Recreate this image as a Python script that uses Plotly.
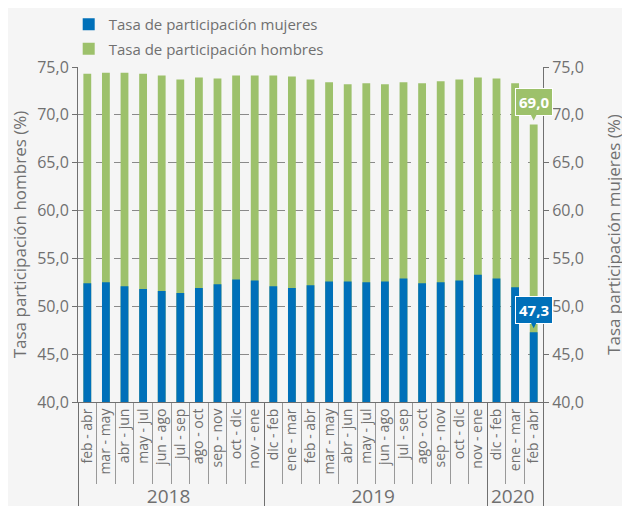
import plotly.graph_objects as go

years = ["2018"] * 10 + ["2019"] * 12 + ["2020"] * 3
periods = ["feb - abr", "mar - may", "abr - jun", "may - jul", "jun - ago", "jul - sep",
           "ago - oct", "sep - nov", "oct - dic", "nov - ene",
           "dic - feb", "ene - mar", "feb - abr", "mar - may", "abr - jun", "may - jul",
           "jun - ago", "jul - sep", "ago - oct", "sep - nov", "oct - dic", "nov - ene",
           "dic - feb", "ene - mar", "feb - abr"]
hombres = [74.3, 74.4, 74.4, 74.3, 74.1, 73.7, 73.9, 73.8, 74.1, 74.1,
           74.1, 74.0, 73.7, 73.4, 73.2, 73.3, 73.2, 73.4, 73.3, 73.5, 73.7, 73.9,
           73.8, 73.3, 69.0]
mujeres = [52.4, 52.5, 52.1, 51.8, 51.6, 51.4, 51.9, 52.3, 52.8, 52.7,
           52.1, 51.9, 52.2, 52.6, 52.6, 52.5, 52.6, 52.9, 52.4, 52.5, 52.7, 53.3,
           52.9, 52.0, 47.3]

BLUE = "#0070b9"
GREEN = "#9dc16b"
GRAY = "#707070"
FONT = "Open Sans"

# keep the inner labels distinct per year (invisible suffix) so the order is preserved
order = {"2018": "", "2019": "\u200b", "2020": "\u200b\u200b"}
inner = [p + order[y] for y, p in zip(years, periods)]
outer = ["<span style='font-size:19px'>%s</span>" % y for y in years]
x = [outer, inner]
last = len(periods) - 1

fig = go.Figure()
fig.add_trace(go.Bar(x=x, y=mujeres, name="Tasa de participación mujeres", legendgroup="m",
                     marker=dict(color=BLUE, line=dict(width=0)), width=0.42, yaxis="y2"))
fig.add_trace(go.Bar(x=x, y=hombres, name="Tasa de participación hombres", legendgroup="h",
                     marker=dict(color=GREEN, line=dict(width=0)), width=0.42, yaxis="y"))

for val, yref, col, txt in [(hombres[-1], "y", GREEN, "69,0"), (mujeres[-1], "y2", BLUE, "47,3")]:
    fig.add_annotation(x=last, y=val, xref="x", yref=yref, text="<b>%s</b>" % txt,
                       showarrow=True, ax=0, ay=-22, standoff=4, arrowhead=2, arrowsize=1,
                       arrowwidth=2, arrowcolor=col,
                       bgcolor=col, bordercolor="white", borderwidth=1, borderpad=3,
                       font=dict(color="white", size=15, family=FONT))

axis_common = dict(range=[40, 75], dtick=5, tickformat=".1f", ticks="outside", ticklen=5,
                   tickcolor=GRAY, showline=True, linecolor=GRAY, linewidth=1,
                   tickfont=dict(size=16, color=GRAY), zeroline=False, automargin=False)

fig.update_layout(
    width=622, height=498,
    paper_bgcolor="#f5f5f5", plot_bgcolor="#f5f5f5",
    font=dict(family=FONT, color=GRAY),
    separators=",.",
    margin=dict(l=70, r=87, t=59, b=104, autoexpand=False),
    barmode="overlay",
    showlegend=True,
    legend=dict(x=-0.02, xanchor="left", y=1.176, yanchor="top", traceorder="grouped",
                font=dict(size=15, color=GRAY), bgcolor="rgba(0,0,0,0)", tracegroupgap=2),
    xaxis=dict(type="multicategory", tickangle=-90, showline=True, linecolor=GRAY,
               range=[-0.5, len(periods) - 0.5], autorange=False,
               ticks="outside", tickson="boundaries", ticklen=81, tickcolor="#999999",
               showdividers=True, dividercolor=GRAY, dividerwidth=1, automargin=False,
               tickfont=dict(size=14, color=GRAY), showgrid=False),
    yaxis=dict(**axis_common, showgrid=True, gridcolor="#8a8a8a", griddash="dash",
               title=dict(text="Tasa participación hombres (%)", font=dict(size=17, color=GRAY), standoff=6)),
    yaxis2=dict(**axis_common, overlaying="y", side="right", showgrid=False,
                title=dict(text="Tasa participación mujeres (%)", font=dict(size=17, color=GRAY), standoff=25)),
)

fig.write_html("out.html")
